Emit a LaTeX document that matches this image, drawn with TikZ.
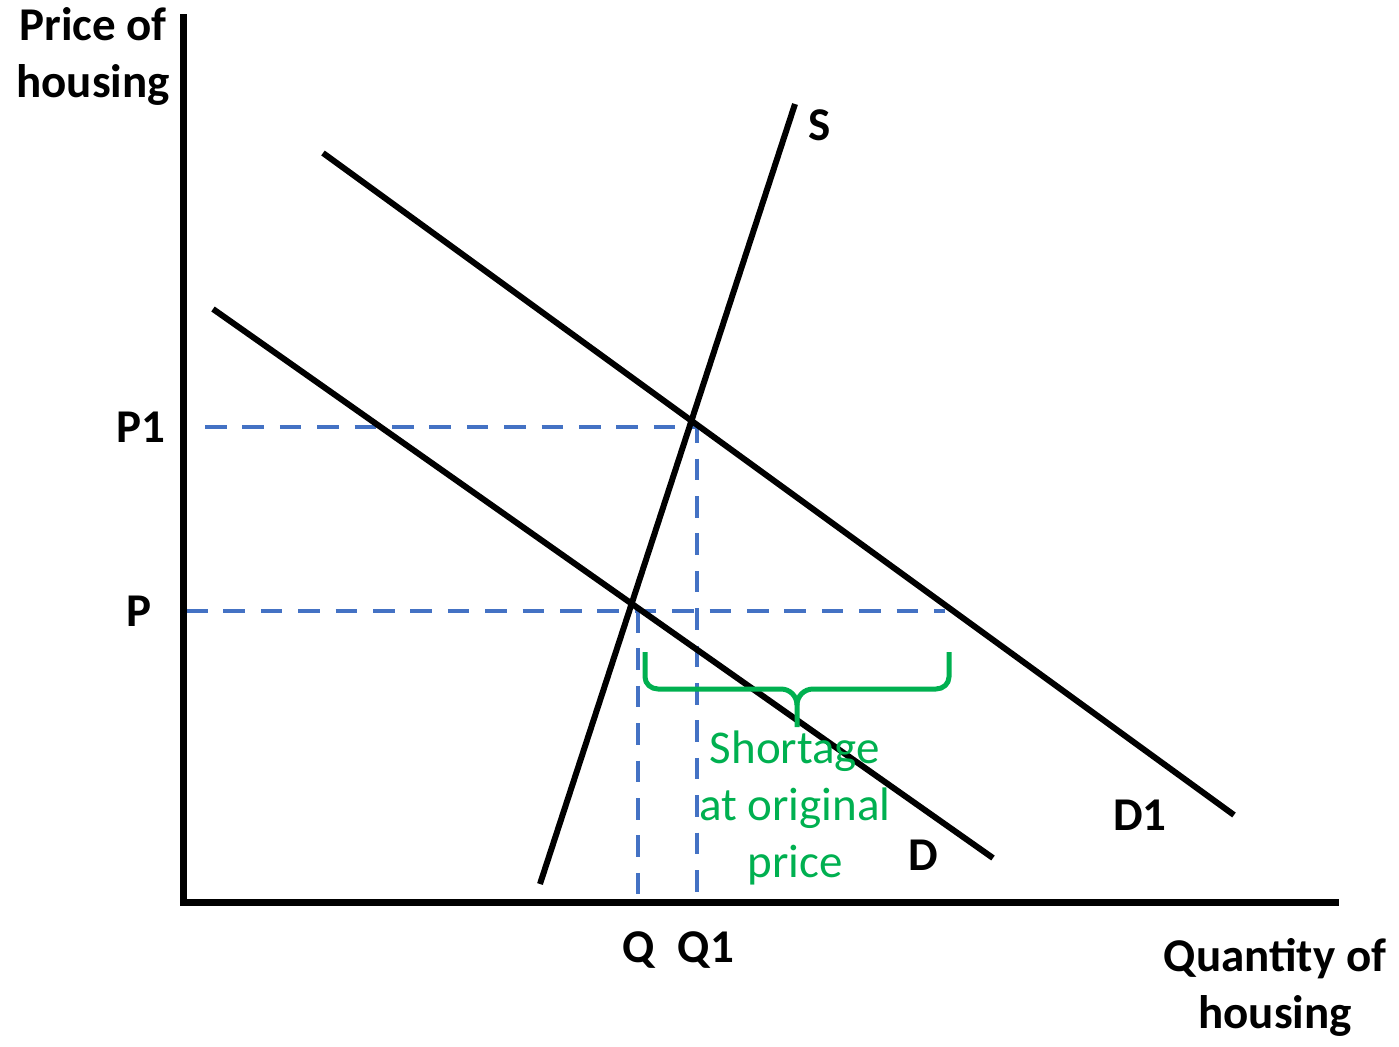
\documentclass[tikz,border=0pt]{standalone}
\usepackage{fontspec}
\setmainfont{Carlito}
\usepackage{tikz}
\definecolor{shortgreen}{HTML}{00B050}
\definecolor{guideblue}{HTML}{4472C4}

\begin{document}
\begin{tikzpicture}[
  x=0.5pt, y=-0.5pt,
  font=\fontsize{23.5}{28.5}\selectfont\bfseries,
  axis/.style={draw=black, line width=3.5pt},
  curve/.style={draw=black, line width=3pt},
  guide/.style={draw=guideblue, line width=2.25pt, dash pattern=on 10.8pt off 7.9pt},
  brace/.style={draw=shortgreen, line width=2.5pt, line join=round},
  lbl/.style={inner sep=0pt, anchor=base},
  multi/.style={inner sep=0pt, anchor=base, align=center}
]
\useasboundingbox (0,0) rectangle (1399,1046);

\coordinate (origin) at (183,902);
\coordinate (ytop) at (183,14);
\coordinate (xend) at (1339,902);
\coordinate (s0) at (540,884);
\coordinate (s1) at (795,104);
\coordinate (d0) at (213,309);
\coordinate (d1) at (993,858);
\coordinate (e0) at (323,153);
\coordinate (e1) at (1234,815);

\draw[guide] (205,427) -- (697,427) -- (697,896);
\draw[guide] (186,611) -- (945,611);
\draw[guide] (638,611) -- (638,896);

\draw[curve] (s0) -- (s1);
\draw[curve] (d0) -- (d1);
\draw[curve] (e0) -- (e1);
\draw[axis] (ytop) -- (origin) -- (xend);

\draw[brace] (645,652) -- (645,677) to[out=-90,in=180] (658,689) -- (781,689)
  to[out=0,in=90] (797,705) -- (797,727);
\draw[brace] (949,652) -- (949,677) to[out=-90,in=0] (936,689) -- (813,689)
  to[out=180,in=90] (797,705);

\node[multi] (yname) at (93,97) {Price of\\housing};
\node[multi] (xname) at (1275,1028) {Quantity of\\housing};
\node[lbl] (p1) at (141,442) {P1};
\node[lbl] (p) at (139,626) {P};
\node[lbl] (slbl) at (820,140) {S};
\node[lbl] (dlbl) at (923,870) {D};
\node[lbl] (d1lbl) at (1140,830) {D1};
\node[lbl] (q) at (639,962) {Q};
\node[lbl] (q1) at (706,962) {Q1};
\node[multi, text=shortgreen, font=\fontsize{23.5}{28.5}\selectfont] (gap) at (795,877)
  {Shortage\\at original\\price};
\end{tikzpicture}
\end{document}
